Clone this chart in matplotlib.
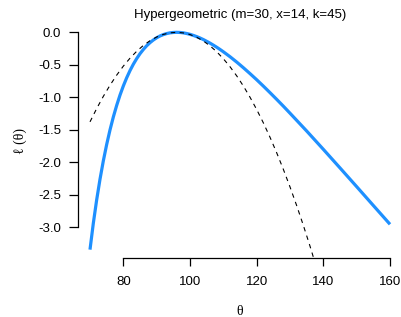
import matplotlib
matplotlib.use("Agg")
import matplotlib.pyplot as plt

plt.rcParams['font.family'] = ['Liberation Sans', 'DejaVu Sans']

# relative log-likelihood, hypergeometric (m=30, x=14, k=45)
theta = [70, 71, 72, 73, 74, 75, 76, 77, 78, 79, 80, 81, 82, 83, 84, 85, 86, 87,
         88, 89, 90, 91, 92, 93, 94, 95, 96, 97, 98, 99, 100, 101, 102, 103, 104,
         105, 106, 107, 108, 109, 110, 112, 114, 116, 118, 120, 122, 124, 126,
         128, 130, 135, 140, 145, 150, 155, 160]
loglik = [-3.343, -2.936, -2.578, -2.260, -1.977, -1.726, -1.502, -1.302, -1.125,
          -0.966, -0.825, -0.700, -0.589, -0.491, -0.405, -0.329, -0.264, -0.207,
          -0.159, -0.118, -0.084, -0.056, -0.035, -0.019, -0.008, -0.002, 0.000,
          -0.002, -0.008, -0.018, -0.031, -0.047, -0.066, -0.087, -0.111, -0.138,
          -0.166, -0.197, -0.229, -0.263, -0.299, -0.375, -0.457, -0.544, -0.635,
          -0.729, -0.827, -0.928, -1.031, -1.136, -1.244, -1.518, -1.800, -2.086,
          -2.374, -2.664, -2.953]

# quadratic approximation
theta_q = [70, 72, 74, 76, 78, 80, 82, 84, 86, 88, 90, 92, 94, 96, 98, 100, 102,
           104, 106, 108, 110, 112, 114, 116, 118, 120, 122, 124, 126, 128, 130,
           132, 134, 136, 138, 140]
quad = [-1.377, -1.173, -0.985, -0.814, -0.659, -0.520, -0.398, -0.292, -0.202,
        -0.129, -0.072, -0.032, -0.008, 0.000, -0.009, -0.034, -0.076, -0.133,
        -0.208, -0.298, -0.406, -0.529, -0.669, -0.825, -0.998, -1.187, -1.392,
        -1.614, -1.852, -2.107, -2.378, -2.665, -2.969, -3.289, -3.626, -3.979]

xticks = [80, 100, 120, 140, 160]
yticks = [0.0, -0.5, -1.0, -1.5, -2.0, -2.5, -3.0]

fig = plt.figure(figsize=(4.01, 3.17), dpi=100)
ax = fig.add_axes([0.1945, 0.185, 0.808, 0.7405])

ax.plot(theta, loglik, color='#1E90FF', lw=2.3, solid_capstyle='butt')
ax.plot(theta_q, quad, color='black', lw=0.8, dashes=(4, 4))

ax.set_xlim(66.4, 163.6)
ax.set_ylim(-3.477, 0.134)

for s in ['top', 'right']:
    ax.spines[s].set_visible(False)
ax.spines['bottom'].set_bounds(80, 160)
ax.spines['left'].set_bounds(-3.0, 0.0)
ax.spines['bottom'].set_linewidth(0.9)
ax.spines['left'].set_linewidth(0.9)

ax.set_xticks(xticks)
ax.set_yticks(yticks)
ax.set_yticklabels(['%.1f' % v for v in yticks])
ax.tick_params(axis='x', length=6, width=0.9, pad=7, labelsize=9.5)
ax.tick_params(axis='y', length=6.5, width=0.9, pad=5.5, labelsize=9.5)

serif = ['Liberation Serif', 'DejaVu Serif']
ax.set_title('Hypergeometric (m=30, x=14, k=45)', fontsize=9.5, pad=4)
ax.set_xlabel('θ', fontsize=10, labelpad=12, family=serif)
ax.set_ylabel('ℓ (θ)', fontsize=10, labelpad=8, family=serif)

fig.savefig('out.png', dpi=100)
